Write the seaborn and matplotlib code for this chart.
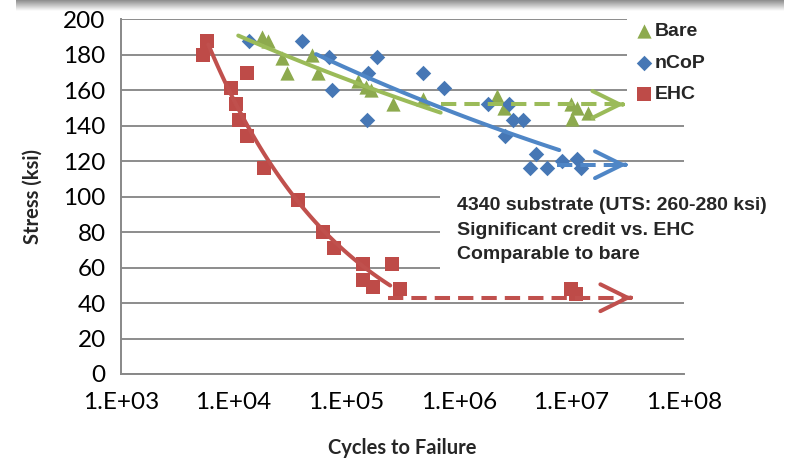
import numpy as np
import pandas as pd
import seaborn as sns
import matplotlib.pyplot as plt

# data (cycles, ksi)
bare_cycles = [17700, 20100, 26700, 29600, 49700, 55800, 128000, 150000, 166000, 262000, 477000,
               2180000, 2540000, 10000000, 10200000, 11300000, 13900000]
bare_stress = [190, 188, 178, 170, 180, 170, 165, 162, 160, 152, 155,
               157, 150, 152, 144, 150, 147]

ncop_cycles = [13600, 40300, 70800, 74800, 153000, 155000, 187000, 484000, 743000,
               1810000, 2570000, 2810000, 3010000, 3700000, 4330000, 4860000, 6070000, 8200000,
               11300000, 12200000]
ncop_stress = [188, 188, 179, 160, 143, 170, 179, 170, 161,
               152, 134, 152, 143, 143, 116, 124, 116, 120,
               121, 116]

ehc_cycles = [5320, 5770, 9480, 10500, 11250, 13060, 13150, 18750, 37060, 62700, 78300,
              140000, 140000, 174000, 253000, 302000, 10000000, 11000000]
ehc_stress = [180, 188, 161, 152, 143, 134, 170, 116, 98, 80, 71,
              62, 53, 49, 62, 48, 48, 45]

series_names = ['Bare', 'nCoP', 'EHC']

# trendline extents and run-out arrows
fit_range = {'Bare': (11000, 690000), 'nCoP': (54000, 7800000), 'EHC': (5960, 246000)}
runout_level = {'Bare': 152, 'nCoP': 118, 'EHC': 43}
runout_span = {'Bare': (690000, 29400000), 'nCoP': (7500000, 31000000), 'EHC': (233000, 34600000)}

x_ticks = [1e3, 1e4, 1e5, 1e6, 1e7, 1e8]
x_tick_labels = ['1.E+03', '1.E+04', '1.E+05', '1.E+06', '1.E+07', '1.E+08']
y_ticks = list(range(0, 201, 20))

note = '4340 substrate (UTS: 260-280 ksi)\nSignificant credit vs. EHC\nComparable to bare'

df = pd.concat([
    pd.DataFrame({'cycles': bare_cycles, 'stress': bare_stress, 'series': 'Bare'}),
    pd.DataFrame({'cycles': ncop_cycles, 'stress': ncop_stress, 'series': 'nCoP'}),
    pd.DataFrame({'cycles': ehc_cycles, 'stress': ehc_stress, 'series': 'EHC'}),
])

marker_col = {'Bare': '#8DAA4E', 'nCoP': '#4677B5', 'EHC': '#BE4B48'}
line_col = {'Bare': '#9BBB59', 'nCoP': '#4F86C6', 'EHC': '#C0504D'}
markers = {'Bare': '^', 'nCoP': 'D', 'EHC': 's'}
msize = {'Bare': 105, 'nCoP': 62, 'EHC': 115}

sns.set_style("white")
plt.rcParams['font.family'] = ['Lato', 'DejaVu Sans']

fig = plt.figure(figsize=(8, 4.62), dpi=100)

# grey shadow band at the top of the slide
band = fig.add_axes([0.02, 1 - 11 / 462, 0.96, 11 / 462])
grad = np.linspace(0.55, 1.0, 50).reshape(-1, 1)
band.imshow(grad, aspect='auto', cmap='gray', vmin=0, vmax=1, extent=(0, 1, 0, 1))
band.axis('off')

ax = fig.add_axes([121 / 800, 1 - 374 / 462, (684 - 121) / 800, (374 - 19.3) / 462])

for name in series_names:
    sub = df[df.series == name]
    sns.scatterplot(data=sub, x='cycles', y='stress', marker=markers[name], s=msize[name],
                    color=marker_col[name], linewidth=0, ax=ax, zorder=2, label=name)

    # power trendline, fitted on the points inside the drawn range
    lo, hi = fit_range[name]
    pts = sub[(sub.cycles >= lo * 0.9) & (sub.cycles <= hi * 1.3)]
    b, a = np.polyfit(np.log10(pts.cycles), np.log10(pts.stress), 1)
    xs = np.geomspace(lo, hi, 60)
    ax.plot(xs, 10 ** (a + b * np.log10(xs)), color=line_col[name], lw=2.9, zorder=3,
            solid_capstyle='round')

    # run-out arrow
    x0, x1 = runout_span[name]
    yv = runout_level[name]
    ax.plot([x0, x1 * 0.97], [yv, yv], color=line_col[name], lw=2.9, dashes=(3.8, 2.0),
            dash_capstyle='butt', zorder=3)
    ax.annotate('', xy=(x1, yv), xytext=(x1 * 0.97, yv),
                arrowprops=dict(arrowstyle='->,head_length=0.85,head_width=0.42', lw=2.9,
                                color=line_col[name], mutation_scale=23, shrinkA=0, shrinkB=0),
                zorder=3)

ax.set_xscale('log')
ax.set_xlim(1e3, 1e8)
ax.set_ylim(0, 200)
ax.set_xticks(x_ticks)
ax.set_xticklabels(x_tick_labels)
ax.minorticks_off()
ax.set_yticks(y_ticks)
ax.tick_params(axis='both', labelsize=17.5, colors='#888888', labelcolor='black',
               length=7, width=1.2, direction='out')
ax.tick_params(axis='x', pad=6)
ax.tick_params(axis='y', pad=4)
ax.yaxis.grid(True, color='#8C8C8C', lw=1.4)
ax.set_axisbelow(True)
for s in ['top', 'right']:
    ax.spines[s].set_visible(False)
for s in ['left', 'bottom']:
    ax.spines[s].set_color('#888888')
    ax.spines[s].set_linewidth(1.4)

ax.set_xlabel('Cycles to Failure', fontsize=14.5, fontweight='bold', labelpad=18)
ax.set_ylabel('Stress (ksi)', fontsize=14.5, fontweight='bold', labelpad=15)
ax.patch.set_alpha(0)

ax.text(457, 462 - 197, note, transform=None, fontsize=14, fontweight='bold', va='top', ha='left',
        family=['Liberation Sans', 'DejaVu Sans'], linespacing=1.58,
        bbox=dict(boxstyle='square,pad=0.9', fc='white', ec='none'), zorder=4)

leg = ax.legend(loc='upper left', bbox_to_anchor=(617 / 800, 1 - 5 / 462),
                bbox_transform=fig.transFigure, frameon=True, facecolor='white', edgecolor='none',
                framealpha=1, fancybox=False, handletextpad=0.05, labelspacing=0.72,
                handlelength=1.0, borderpad=0.4,
                prop={'family': ['Liberation Sans', 'DejaVu Sans'], 'weight': 'bold', 'size': 14})
leg.set_zorder(5)

plt.savefig('out.png', dpi=100)
plt.close()
